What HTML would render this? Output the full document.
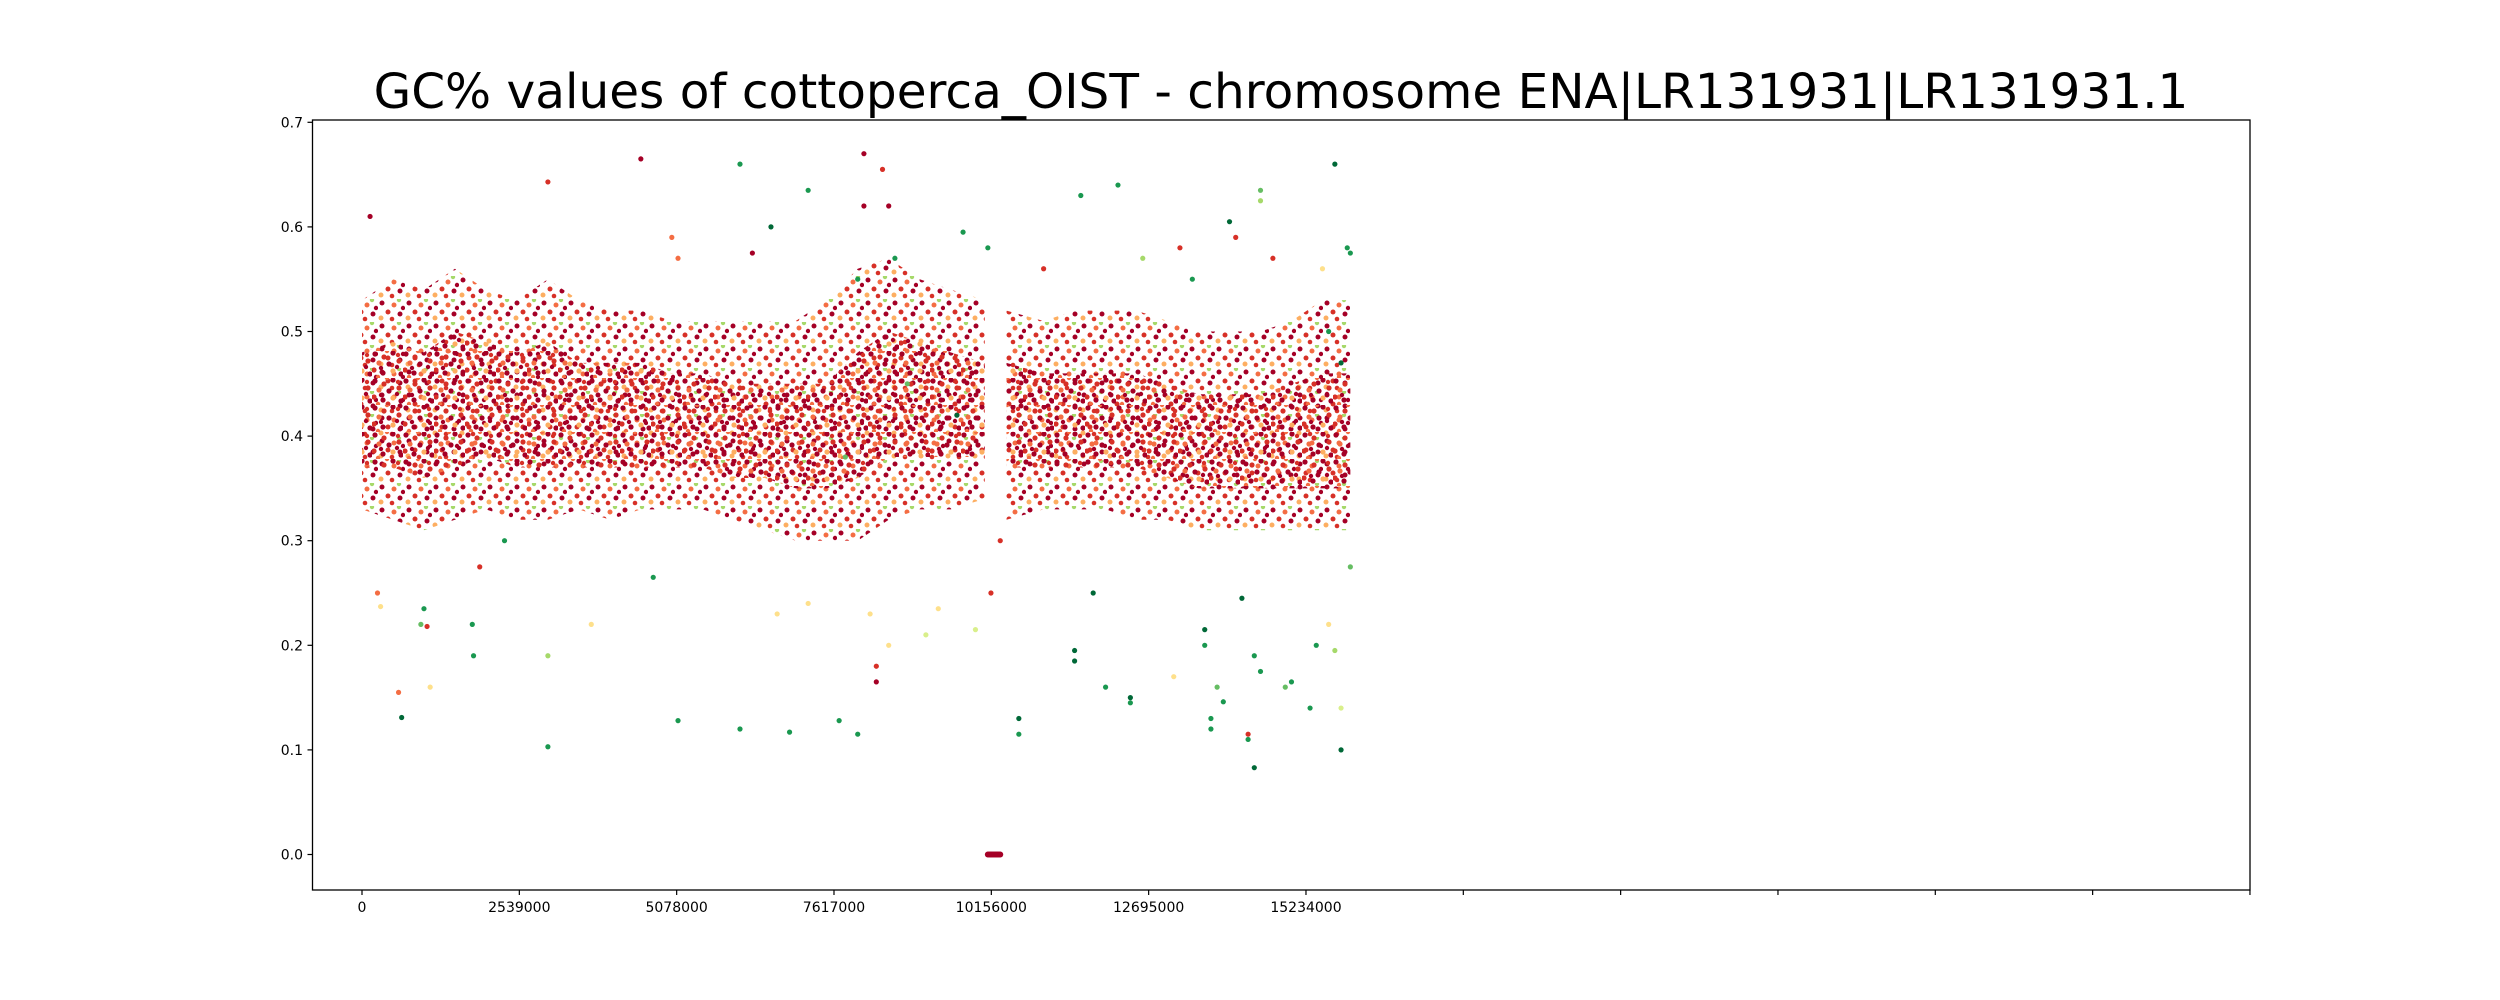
<!DOCTYPE html>
<html><head><meta charset="utf-8"><style>
html,body{margin:0;padding:0;background:#fff;}
svg{display:block;font-family:"DejaVu Sans","Liberation Sans",sans-serif;}
</style></head><body>
<svg id="chart" width="2500" height="1000">
<defs>
<pattern id="densePat" width="31" height="27" patternUnits="userSpaceOnUse">
<circle cx="3" cy="3" r="2.6" fill="#a50026"/><circle cx="12" cy="6" r="2.6" fill="#d73027"/>
<circle cx="21" cy="2" r="2.6" fill="#a50026"/><circle cx="7" cy="12" r="2.6" fill="#f46d43"/>
<circle cx="17" cy="13" r="2.6" fill="#a50026"/><circle cx="27" cy="10" r="2.6" fill="#d73027"/>
<circle cx="2" cy="19" r="2.6" fill="#d73027"/><circle cx="11" cy="22" r="2.6" fill="#a50026"/>
<circle cx="21" cy="20" r="2.6" fill="#fdae61"/><circle cx="29" cy="23" r="2.6" fill="#a50026"/>
<circle cx="15" cy="0" r="2.2" fill="#f46d43"/><circle cx="25" cy="16" r="2.2" fill="#a50026"/>
<circle cx="6" cy="26" r="2.2" fill="#f46d43"/><circle cx="9" cy="17" r="2.2" fill="#a50026"/>
<circle cx="26" cy="4" r="2.2" fill="#d73027"/>
</pattern>
<pattern id="sparsePat" width="27" height="23" patternUnits="userSpaceOnUse">
<circle cx="4" cy="4" r="2.5" fill="#a50026"/><circle cx="16" cy="6" r="2.5" fill="#f46d43"/>
<circle cx="10" cy="13" r="2.5" fill="#d73027"/><circle cx="22" cy="15" r="2.5" fill="#a50026"/>
<circle cx="3" cy="19" r="2.5" fill="#fdae61"/><circle cx="21" cy="1" r="2.2" fill="#a6d96a"/>
<circle cx="14" cy="20" r="2.3" fill="#d73027"/><circle cx="25" cy="9" r="2.2" fill="#a50026"/>
</pattern>
</defs>
<text x="1281" y="108" font-size="48.5" text-anchor="middle" fill="#000">GC% values of cottoperca_OIST - chromosome ENA|LR131931|LR131931.1</text>
<g id="plot"></g>
<rect x="312.5" y="120" width="1937.5" height="770" fill="none" stroke="#000" stroke-width="1.3"/>
<g id="axes"></g>
</svg>
<script>
// bins (Mb) with dense core and halo band bounds
const binPos = [0,0.5,1,1.5,2,2.5,3,3.5,4,4.5,5,5.5,6,6.5,7,7.5,8,8.5,9,9.5,10.05];
const coreLo = [.37,.37,.36,.37,.38,.37,.37,.37,.37,.37,.37,.37,.36,.36,.35,.35,.36,.38,.38,.38,.38];
const coreHi = [.48,.49,.48,.50,.49,.48,.49,.47,.47,.47,.46,.46,.45,.45,.45,.45,.48,.50,.49,.48,.47];
const haloLo = [.33,.32,.31,.32,.33,.32,.32,.33,.32,.33,.33,.33,.32,.31,.30,.30,.30,.32,.33,.33,.34];
const haloHi = [.53,.55,.54,.56,.54,.53,.55,.53,.52,.52,.51,.51,.51,.51,.51,.53,.56,.57,.55,.54,.53];
const binPos2 = [10.4,11,11.5,12,12.5,13,13.5,14,14.5,15,15.5,15.95];
const coreLo2 = [.37,.37,.37,.37,.37,.36,.35,.35,.35,.35,.35,.35];
const coreHi2 = [.47,.46,.46,.46,.46,.45,.44,.44,.44,.45,.46,.46];
const haloLo2 = [.32,.33,.33,.33,.32,.32,.31,.31,.31,.31,.31,.31];
const haloHi2 = [.52,.51,.52,.52,.52,.51,.50,.50,.50,.51,.53,.53];
// outliers: [position Mb, GC, colour index]
const outliers = [[0.13,.61,0],[0.25,.25,2],[0.3,.237,4],[0.59,.155,2],[0.64,.131,9],[1.1,.16,4],[0.95,.22,7],[1.0,.235,8],[1.05,.218,1],[1.8,.19,8],[1.78,.22,8],[1.9,.275,1],[2.3,.3,8],[3.0,.643,1],[3.0,.103,8],[3.0,.19,6],[3.7,.22,4],[4.5,.665,0],[4.7,.265,8],[5.0,.59,2],[5.1,.57,2],[5.1,.128,8],[6.1,.66,8],[6.1,.12,8],[6.3,.575,0],[6.6,.6,9],[6.9,.117,8],[7.2,.635,8],[7.7,.128,8],[8.0,.115,8],[8.1,.67,0],[8.1,.62,0],[8.4,.655,1],[8.5,.62,0],[8.3,.18,1],[8.3,.165,0],[8.5,.2,4],[8.2,.23,4],[9.1,.21,5],[9.7,.595,8],[10.1,.58,8],[10.15,.25,1],[9.9,.215,5],[10.3,.3,1],[10.6,.115,8],[10.6,.13,9],[11.0,.56,1],[11.5,.195,9],[11.5,.185,9],[11.6,.63,8],[11.8,.25,9],[12.0,.16,8],[12.2,.64,8],[12.4,.145,8],[12.4,.15,9],[12.6,.57,6],[13.1,.17,4],[13.2,.58,1],[13.4,.55,8],[13.6,.2,8],[13.6,.215,9],[13.7,.13,8],[13.7,.12,8],[13.8,.16,7],[13.9,.146,8],[14.0,.605,9],[14.1,.59,1],[14.2,.245,9],[14.3,.115,1],[14.4,.083,9],[14.3,.11,8],[14.5,.625,6],[14.5,.635,7],[14.4,.19,8],[14.5,.175,8],[14.7,.57,1],[14.9,.16,7],[15.0,.165,8],[15.3,.14,8],[15.4,.2,8],[15.5,.56,4],[15.7,.66,9],[15.7,.195,6],[15.8,.1,9],[15.8,.14,5],[15.9,.58,8],[15.95,.575,8],[15.95,.275,7],[15.6,.22,4],[9.3,.235,4],[7.2,.24,4],[6.7,.23,4],[8.0,.55,8],[8.6,.57,8],[15.6,.5,8],[15.8,.47,9],[7.8,.38,7],[9.6,.42,9],[8.8,.45,7]];
const zeroPos = [10.10,10.12,10.14,10.16,10.18,10.20,10.22,10.24,10.26,10.28,10.30];
const xTickVals = [0,2539000,5078000,7617000,10156000,12695000,15234000,17773000,20312000,22851000,25390000,27929000,30468000];
const xTickLabeled = [true,true,true,true,true,true,true,false,false,false,false,false,false];
const yTickVals = [0,0.1,0.2,0.3,0.4,0.5,0.6,0.7];
const yTickLabels = ["0.0","0.1","0.2","0.3","0.4","0.5","0.6","0.7"];
const cmap = ["#a50026","#d73027","#f46d43","#fdae61","#fee08b","#d9ef8b","#a6d96a","#66bd63","#1a9850","#006837"];

const NS="http://www.w3.org/2000/svg";
const xPx = v => 362 + v/2539000*157.33;
const yPx = v => 854.5 - v*1046;
const plot=document.getElementById('plot'), axes=document.getElementById('axes');
function mk(tag,attrs,parent){const e=document.createElementNS(NS,tag);for(const k in attrs)e.setAttribute(k,attrs[k]);parent.appendChild(e);return e;}
function band(pos,lo,hi,fill,name){
  let pts=[];
  pos.forEach((p,i)=>pts.push(xPx(p*1e6)+','+yPx(hi[i])));
  for(let i=pos.length-1;i>=0;i--)pts.push(xPx(pos[i]*1e6)+','+yPx(lo[i]));
  const e=mk('polygon',{points:pts.join(' '),fill:fill},plot);
  
  
}
band(binPos,haloLo,haloHi,'url(#sparsePat)','halo-band-left');
band(binPos2,haloLo2,haloHi2,'url(#sparsePat)','halo-band-right');
band(binPos,coreLo,coreHi,'url(#densePat)','core-band-left');
band(binPos2,coreLo2,coreHi2,'url(#densePat)','core-band-right');
outliers.forEach(o=>{
  const c=mk('circle',{cx:xPx(o[0]*1e6),cy:yPx(o[1]),r:2.6,fill:cmap[o[2]]},plot);
  
  
});
zeroPos.forEach(p=>{
  const c=mk('circle',{cx:xPx(p*1e6),cy:yPx(0),r:3,fill:'#a50026'},plot);
  
  
});
xTickVals.forEach((v,i)=>{
  const x=xPx(v);
  const t=mk('line',{x1:x,x2:x,y1:890,y2:895,stroke:'#000','stroke-width':1.2},axes);
  
  
  if(xTickLabeled[i]){
    const l=mk('text',{x:x,y:912,'font-size':14,'text-anchor':'middle',fill:'#000'},axes);
    l.textContent=String(v);
    
    
  }
});
yTickVals.forEach((v,i)=>{
  const y=yPx(v);
  const t=mk('line',{x1:307.5,x2:312.5,y1:y,y2:y,stroke:'#000','stroke-width':1.2},axes);
  
  
  const l=mk('text',{x:303,y:y+5,'font-size':14,'text-anchor':'end',fill:'#000'},axes);
  l.textContent=yTickLabels[i];
  
  
});
</script>
</body></html>
